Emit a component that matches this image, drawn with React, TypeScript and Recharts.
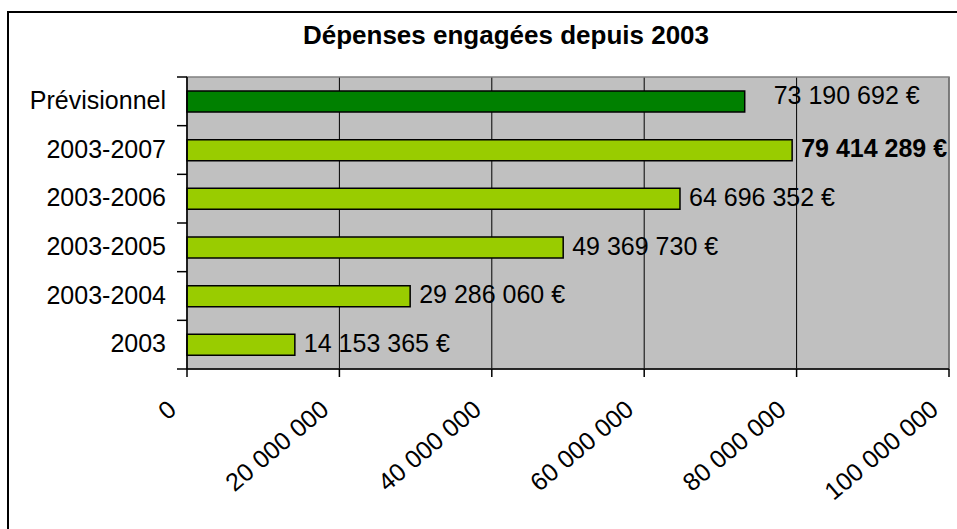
/**
 * Dépenses engagées depuis 2003 — horizontal bar chart.
 */
import { Bar, BarChart, CartesianGrid, Cell, LabelList, ReferenceArea, XAxis, YAxis } from 'recharts';

const categories = ['Prévisionnel', '2003-2007', '2003-2006', '2003-2005', '2003-2004', '2003'];
const amounts = [73190692, 79414289, 64696352, 49369730, 29286060, 14153365];
const xTicks = [0, 20000000, 40000000, 60000000, 80000000, 100000000];

const data = categories.map((name, i) => ({ name, amount: amounts[i] }));

const W = 957;
const H = 529;
const PLOT_TOP = 77;
const PLOT_BOTTOM = 369;
const BAND = (PLOT_BOTTOM - PLOT_TOP) / categories.length;
const FONT = '"Liberation Sans", Arial, sans-serif';

const fmt = (v: number) => v.toLocaleString('fr-FR').replace(/[\u202f\u00a0]/g, ' ');

function YTick(props: any) {
  const { x, y, payload, index, visibleTicksCount } = props;
  const lx1 = x + 11;
  const lx2 = x + 21;
  return (
    <g>
      <line x1={lx1} x2={lx2} y1={y - BAND / 2} y2={y - BAND / 2} stroke="#000" strokeWidth={1.5} />
      {index === visibleTicksCount - 1 && (
        <line x1={lx1} x2={lx2} y1={y + BAND / 2} y2={y + BAND / 2} stroke="#000" strokeWidth={1.5} />
      )}
      <text x={x} y={y + 7.5} textAnchor="end" fontSize={25} fill="#000" fontFamily={FONT}>
        {payload.value}
      </text>
    </g>
  );
}

function XTick(props: any) {
  const { x, y, payload } = props;
  const tx = x - 9;
  const ty = y + 33;
  return (
    <text
      x={tx}
      y={ty}
      textAnchor="end"
      fontSize={25}
      fill="#000"
      fontFamily={FONT}
      transform={`rotate(-40 ${tx} ${ty})`}
    >
      {fmt(payload.value)}
    </text>
  );
}

function ValueLabel(props: any) {
  const { x, y, width, height, value, index } = props;
  const cy = y + height / 2;
  const first = index === 0;
  return (
    <text
      x={x + width + (first ? 29 : 9)}
      y={cy + (first ? 2.3 : 7)}
      fontSize={25}
      fontWeight={index === 1 ? 'bold' : 'normal'}
      fill="#000"
      fontFamily={FONT}
    >
      {fmt(value)} €
    </text>
  );
}

export default function App() {
  return (
    <div style={{ position: 'absolute', left: 0, top: 0, width: W, height: H, background: '#fff', overflow: 'hidden' }}>
      <div
        style={{
          position: 'absolute',
          left: 7,
          top: 11,
          width: W,
          height: H,
          borderLeft: '2px solid #000',
          borderTop: '2px solid #000',
        }}
      />
      <div
        style={{
          position: 'absolute',
          left: 506 - 300,
          width: 600,
          top: 20,
          textAlign: 'center',
          fontFamily: FONT,
          fontWeight: 'bold',
          fontSize: 26,
          lineHeight: '30px',
          color: '#000',
        }}
      >
        Dépenses engagées depuis 2003
      </div>
      <div style={{ position: 'absolute', left: 0, top: 0 }}>
        <BarChart
          width={W}
          height={H}
          data={data}
          layout="vertical"
          margin={{ top: PLOT_TOP, right: 8, bottom: 10, left: 0 }}
          barCategoryGap={0}
        >
          <CartesianGrid horizontal={false} stroke="#000" fill="#C0C0C0" fillOpacity={1} />
          <ReferenceArea x1={0} x2={100000000} stroke="#808080" strokeWidth={1.5} fill="none" ifOverflow="visible" />
          <XAxis
            type="number"
            domain={[0, 100000000]}
            ticks={xTicks}
            interval={0}
            height={150}
            stroke="#000"
            tickSize={8}
            tickMargin={2}
            tickLine={{ stroke: '#000', strokeWidth: 1.5 }}
            axisLine={{ stroke: '#000', strokeWidth: 1.5 }}
            tick={<XTick />}
          />
          <YAxis
            type="category"
            dataKey="name"
            width={187}
            tickSize={10}
            tickMargin={11}
            tickLine={false}
            interval={0}
            axisLine={{ stroke: '#000', strokeWidth: 1.5 }}
            tick={<YTick />}
          />
          <Bar dataKey="amount" barSize={21} stroke="#000" strokeWidth={1.5} isAnimationActive={false}>
            {data.map((d, i) => (
              <Cell key={d.name} fill={i === 0 ? '#008000' : '#99CC00'} />
            ))}
            <LabelList dataKey="amount" content={<ValueLabel />} />
          </Bar>
        </BarChart>
      </div>
    </div>
  );
}
